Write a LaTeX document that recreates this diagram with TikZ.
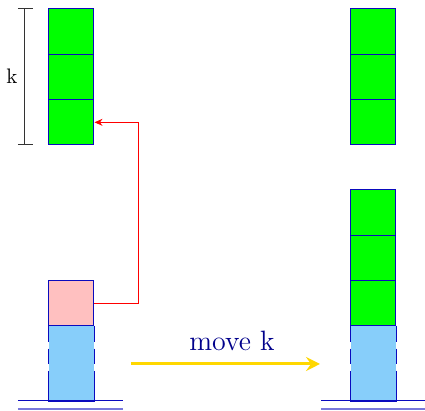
\documentclass[tikz,border=0pt]{standalone}
\usetikzlibrary{arrows.meta}

\definecolor{rim}{RGB}{10,10,190}
\definecolor{restblue}{RGB}{135,206,250}
\definecolor{topcell}{RGB}{255,192,192}
\definecolor{moveyellow}{RGB}{255,215,0}
\definecolor{movetext}{RGB}{0,0,139}
\definecolor{floorblue}{RGB}{120,120,220}

\tikzset{
  cell/.style={draw=rim, fill=green, line width=0.5pt, minimum width=22.5pt,
    minimum height=22.67pt, inner sep=0pt},
  rest/.style={fill=restblue, minimum width=22.5pt, minimum height=37.5pt, inner sep=0pt},
  cut/.style={draw=rim, line width=0.5pt,
    dash pattern=on 8pt off 3.5pt on 7.5pt off 3.5pt on 15pt off 0pt}
}

\begin{document}
\begin{tikzpicture}[x=0.5pt, y=-0.5pt, >={Stealth}]

\useasboundingbox (0,0) rectangle (425,411);

% base of a stack, sides cut
\def\rest#1#2{
\node[rest] (#1) at (#2,363.5) {};
\draw[rim, line width=0.5pt] (#1.north west)--(#1.north east);
\draw[rim, line width=0.5pt] (#1.south west)--(#1.south east);
\draw[cut] (#1.north west)--(#1.south west);
\draw[cut] (#1.north east)--(#1.south east);
}

% floor
\def\floor#1#2{
\draw[rim, line width=0.5pt] (#1,401)--(#2,401);
\draw[floorblue, line width=1.1pt] (#1,409)--(#2,409);
}

% left side
\node[cell] (la) at (71.5,31.67) {};
\node[cell] (lb) at (71.5,77) {};
\node[cell] (lc) at (71.5,122.33) {};
\rest{lrest}{71.5}
\node[cell, fill=topcell, minimum height=22.5pt] (lpink) at (71.5,303.5) {};
\floor{18}{123}

\coordinate (mtop) at (25,9);
\coordinate (mbot) at (25,145);
\draw[black!80, line width=0.5pt] (mtop)--(mbot);
\draw[black!80, line width=0.5pt] (18,9)--(33,9);
\draw[black!80, line width=0.5pt] (18,145)--(33,145);
\node[font=\fontsize{10.5}{12}\selectfont] (klab) at (12,76) {k};

\coordinate (bend) at (139,303.5);
\draw[red, line width=0.5pt, ->, >={Stealth[length=4pt,width=3.5pt]}]
  (lpink.east)--(bend)|-(lc.east);

% right side
\node[cell] (ra) at (373.5,31.67) {};
\node[cell] (rb) at (373.5,77) {};
\node[cell] (rc) at (373.5,122.33) {};
\rest{rrest}{373.5}
\node[cell] (rd) at (373.5,212.67) {};
\node[cell] (re) at (373.5,258) {};
\node[cell] (rf) at (373.5,303.33) {};
\floor{321}{425}

% move
\coordinate (mvfrom) at (131,364);
\coordinate (mvto) at (320,364);
\draw[moveyellow, line width=1.5pt, ->, >={Stealth[length=7pt,width=7pt,inset=2.5pt]}]
  (mvfrom)--(mvto);
\node[movetext, font=\fontsize{14}{16}\selectfont] (mvlab) at (232,341) {move k};

\end{tikzpicture}
\end{document}
